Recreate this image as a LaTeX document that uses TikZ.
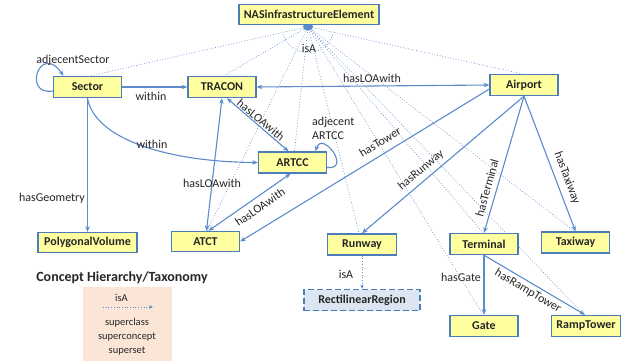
\documentclass[tikz,border=0pt]{standalone}
\usepackage{fontspec}
\setmainfont{Carlito}
\usetikzlibrary{arrows.meta,calc}
\definecolor{nodefill}{HTML}{FFFFA0}
\definecolor{nodeline}{HTML}{4A7DBA}
\definecolor{edgeblue}{HTML}{5B8BCB}
\definecolor{regionfill}{HTML}{DCE6F2}
\definecolor{legendfill}{HTML}{FBE5D6}
\definecolor{labeltext}{HTML}{262626}
\pgfdeclarelayer{edges}
\pgfsetlayers{edges,main}
\begin{document}
\begin{tikzpicture}[x=1pt,y=-1pt,
  concept/.style={draw=nodeline, line width=1.4pt, fill=nodefill,
    minimum width=68pt, minimum height=21pt, inner sep=0pt,
    font=\fontsize{12}{14}\selectfont\bfseries, text=labeltext},
  tip/.style={-{Stealth[length=5.5pt,width=4.5pt]}},
  rel/.style={draw=edgeblue, line width=1.1pt, tip},
  both/.style={draw=edgeblue, line width=1.1pt,
    {Stealth[length=5.5pt,width=4.5pt]}-{Stealth[length=5.5pt,width=4.5pt]}},
  isa/.style={draw=edgeblue, line width=0.7pt, dotted},
  lbl/.style={font=\fontsize{12}{14}\selectfont, text=labeltext, inner sep=0pt},
  small/.style={font=\fontsize{10.5}{14}\selectfont, text=labeltext, inner sep=0pt},
]
\useasboundingbox (0,0) rectangle (621,361);

% concepts
\node[concept, minimum width=140pt, minimum height=20pt] (nas) at (309,14.5) {NASinfrastructureElement};
\node[concept] (Sector) at (87.5,87) {Sector};
\node[concept] (TRACON) at (222,87) {TRACON};
\node[concept] (Airport) at (524,85) {Airport};
\node[concept] (ARTCC) at (292.5,162.5) {ARTCC};
\node[concept, minimum width=99pt, minimum height=20pt] (PolygonalVolume) at (87.5,242.5) {PolygonalVolume};
\node[concept, minimum height=20pt] (ATCT) at (205.5,241.5) {ATCT};
\node[concept, minimum width=69pt] (Runway) at (362,244.5) {Runway};
\node[concept] (Terminal) at (484,244) {Terminal};
\node[concept] (Taxiway) at (575.5,242.5) {Taxiway};
\node[concept, minimum width=116pt, fill=regionfill, dash pattern=on 6pt off 3pt] (RectilinearRegion) at (362,300) {RectilinearRegion};
\node[concept] (Gate) at (484,326) {Gate};
\node[concept, minimum width=69pt] (RampTower) at (586,326) {RampTower};

\coordinate (hub) at ($(nas.south)+(-1,1.5)$);

\begin{pgfonlayer}{edges}
  % isA hub
  \fill[edgeblue] (hub) ellipse [x radius=5, y radius=4];
  \draw[isa] ($(hub)+(18:26)$) arc[start angle=18, end angle=162, radius=26];
  \draw[isa] (hub) -- ($(Sector.north)+(3,0)$);
  \draw[isa] (hub) -- ($(TRACON.north)+(2,0)$);
  \draw[isa] (hub) -- ($(ARTCC.north)+(2,0)$);
  \draw[isa] (hub) -- ($(ATCT.north)+(1.5,0)$);
  \draw[isa] (hub) -- ($(Runway.north)+(-3,0)$);
  \draw[isa] (hub) -- ($(Terminal.north)+(-1,0)$);
  \draw[isa] (hub) -- ($(Gate.north)+(-1,0)$);
  \draw[isa] (hub) -- ($(RampTower.north)+(-2,0)$);
  \draw[isa] (hub) -- ($(Taxiway.north)+(-1,0)$);
  \draw[isa] (hub) -- ($(Airport.north)+(-2,0)$);

  % relations
  \draw[rel] ($(Sector.west)+(0,4)$) .. controls (22,96) and (40,42) .. ($(Sector.north)+(-24,0)$);
  \draw[rel] (Sector.east) -- (TRACON.west);
  \draw[rel] (Sector.south) .. controls (95,140) and (170,162) .. (ARTCC.west);
  \draw[rel] (Sector.south) -- (PolygonalVolume.north);
  \draw[both] (Airport.west) -- (TRACON.east);
  \draw[both] ($(TRACON.south)+(5,0)$) -- ($(ARTCC.north)+(-4,0)$);
  \draw[both] ($(ATCT.north)+(1,0)$) -- (TRACON.south);
  \draw[both] ($(ATCT.north)+(3,0)$) -- ($(ARTCC.south)+(-2,0)$);
  \draw[rel] ($(ARTCC.east)+(0,5)$) .. controls (352,170) and (322,130) .. ($(ARTCC.north)+(23,0)$);
  \draw[rel] ($(Airport.west)+(0,4)$) -- (ATCT.east);
  \draw[rel] (Airport.south) -- (Runway.north);
  \draw[rel] (Airport.south) -- (Terminal.north);
  \draw[rel] (Airport.south) -- (Taxiway.north);
  \draw[rel] (Terminal.south) -- (Gate.north);
  \draw[rel] (Terminal.south) -- ($(RampTower.north)+(-1,0)$);
  \draw[isa, -{Stealth[length=4pt,width=3.5pt]}] (Runway.south) -- (RectilinearRegion.north);
\end{pgfonlayer}

% relation labels
\node[lbl] (lisa) at (309,48) {isA};
\node[lbl] (ladjsector) at (73,60) {adjecentSector};
\node[lbl] (lwithin1) at (151,96) {within};
\node[lbl] (lwithin2) at (152,144) {within};
\node[lbl] (lgeom) at (52,198) {hasGeometry};
\node[lbl] (lloa1) at (372,78) {hasLOAwith};
\node[lbl, rotate=-40] (lloa2) at (261,120) {hasLOAwith};
\node[lbl] (lloa3) at (212,183) {hasLOAwith};
\node[lbl, rotate=35] (lloa4) at (260,207) {hasLOAwith};
\node[lbl, align=left, anchor=west] (ladjartcc) at (312,128) {adjecent\\ARTCC};
\node[lbl, rotate=31.5] (ltower) at (380,142) {hasTower};
\node[lbl, rotate=40] (lrunway) at (421,170) {hasRunway};
\node[lbl, rotate=74.5] (lterminal) at (487,188) {hasTerminal};
\node[lbl, rotate=-69.4] (ltaxiway) at (567,178) {hasTaxiway};
\node[lbl] (lgate) at (461,277) {hasGate};
\node[lbl, rotate=-30.5] (lramp) at (528,291) {hasRampTower};
\node[lbl] (lrunisa) at (346,274) {isA};

% legend
\node[lbl, font=\fontsize{14}{16}\selectfont\bfseries] (legendtitle) at (122,278) {Concept Hierarchy/Taxonomy};
\node[fill=legendfill, minimum width=89pt, minimum height=75pt, inner sep=0pt, anchor=north west] (legend) at (83,287) {};
\node[small] (legendisa) at (121.5,298) {isA};
\coordinate (legA) at (103,307);
\coordinate (legB) at (153,307);
\draw[isa, -{Stealth[length=4pt,width=3.5pt]}] (legA) -- (legB);
\node[small, align=center] (legendtext) at (127,337) {superclass\\superconcept\\superset};
\end{tikzpicture}
\end{document}
